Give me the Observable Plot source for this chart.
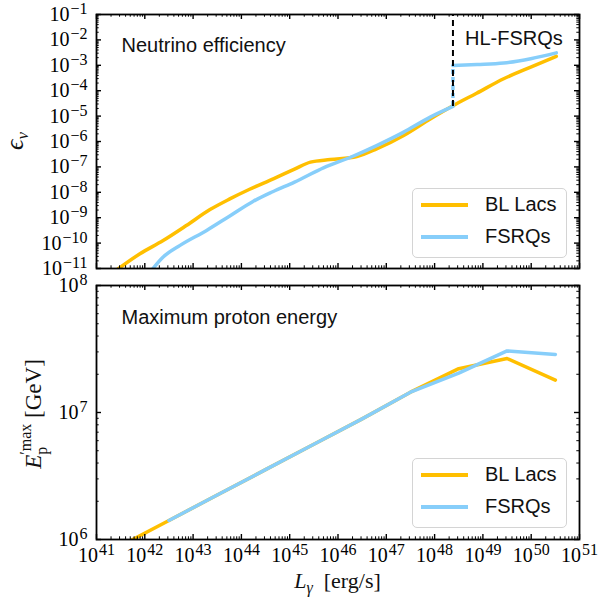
<!DOCTYPE html>
<html>
<head>
<meta charset="utf-8">
<script src="https://cdn.jsdelivr.net/npm/d3@7"></script>
<script src="https://cdn.jsdelivr.net/npm/@observablehq/plot@0.6"></script>
<style>
  body { margin: 0; background: #fff; }
  #wrap { position: relative; width: 598px; height: 601px; }
  #wrap svg { display: block; }
  .legend { position: absolute; left: 412px; width: 155px; height: 70px; box-sizing: border-box;
    border: 1.5px solid #d4d4d4; border-radius: 5px; background: rgba(255,255,255,0.85);
    font-family: "Liberation Sans", sans-serif; font-size: 20px; color: #111; }
  .legend .sw { position: absolute; left: 8px; width: 47px; height: 4px; }
  .legend .lb { position: absolute; left: 72px; line-height: 20px; }
</style>
</head>
<body>
<div id="wrap"></div>
<script>
// ---------- data (log10 values) ----------
const seriesNames = ["BL Lacs", "FSRQs"];
const seriesColors = ["#ffbf00", "#87cefa"];

// Neutrino efficiency panel
const blLacsEffLogL = [41.40, 41.90, 42.38, 42.86, 43.35, 43.76, 44.17, 44.66, 45.10, 45.43, 45.84, 46.39, 46.80, 47.36, 47.91, 48.39, 48.87, 49.43, 49.99, 50.52];
const blLacsEffLog  = [-11.08, -10.42, -9.90, -9.31, -8.68, -8.26, -7.88, -7.47, -7.09, -6.81, -6.71, -6.59, -6.29, -5.76, -5.11, -4.58, -4.10, -3.53, -3.07, -2.65];
const fsrqEffLogL   = [42.12, 42.38, 42.73, 43.28, 43.76, 44.24, 44.66, 45.10, 45.71, 46.26, 46.80, 47.36, 47.91, 48.38];
const fsrqEffLog    = [-11.12, -10.55, -10.09, -9.50, -8.93, -8.36, -7.97, -7.60, -7.03, -6.62, -6.16, -5.63, -5.04, -4.62];
const hlFsrqEffLogL = [48.38, 48.88, 49.43, 49.99, 50.52];
const hlFsrqEffLog  = [-3.01, -2.97, -2.91, -2.74, -2.51];
const hlBoundaryLogL = 48.38;

// Maximum proton energy panel
const blLacsEmaxLogL = [41.5, 42.5, 43.5, 44.5, 45.5, 46.5, 47.5, 48.5, 49.5, 50.5];
const blLacsEmaxLog  = [5.95, 6.15, 6.35, 6.55, 6.75, 6.95, 7.16, 7.345, 7.425, 7.255];
const fsrqEmaxLogL   = [42.5, 43.5, 44.5, 45.5, 46.5, 47.5, 48.5, 49.5, 50.5];
const fsrqEmaxLog    = [6.15, 6.35, 6.55, 6.75, 6.95, 7.16, 7.31, 7.485, 7.457];

// tick exponents
const xTickExps = [41, 42, 43, 44, 45, 46, 47, 48, 49, 50, 51];
const yTopTickExps = [-11, -10, -9, -8, -7, -6, -5, -4, -3, -2, -1];
const yBotTickExps = [6, 7, 8];

// panel labels
const topLabel = "Neutrino efficiency";
const botLabel = "Maximum proton energy";
const hlLabel = "HL-FSRQs";

// ---------- helpers ----------
const pts = (lx, ly) => lx.map((v, i) => ({x: 10 ** v, y: 10 ** ly[i]}));
const majors = exps => exps.map(e => 10 ** e);
const minors = exps => {
  const out = [];
  for (let i = 0; i < exps.length - 1; i++) for (let m = 2; m <= 9; m++) out.push(m * 10 ** exps[i]);
  return out;
};
const fmt = d => "10^" + String(Math.round(Math.log10(d))).replace("-", "\u2212");

const W = 598, ML = 96, MR = 19, FW = W - ML - MR;
const FH = 254;
const serif = "'Liberation Serif', 'DejaVu Serif', serif";
const sans = "'Liberation Sans', 'DejaVu Sans', sans-serif";

function tickMarks(xMaj, xMin, yMaj, yMin) {
  const k = {stroke: "black"};
  return [
    Plot.tickX(xMaj, {...k, x: d => d, strokeWidth: 1.4, insetTop: FH - 5}),
    Plot.tickX(xMaj, {...k, x: d => d, strokeWidth: 1.4, insetBottom: FH - 5}),
    Plot.tickX(xMin, {...k, x: d => d, strokeWidth: 1, insetTop: FH - 2.7}),
    Plot.tickX(xMin, {...k, x: d => d, strokeWidth: 1, insetBottom: FH - 2.7}),
    Plot.tickY(yMaj, {...k, y: d => d, strokeWidth: 1.4, insetRight: FW - 5}),
    Plot.tickY(yMaj, {...k, y: d => d, strokeWidth: 1.4, insetLeft: FW - 5}),
    Plot.tickY(yMin, {...k, y: d => d, strokeWidth: 1, insetRight: FW - 2.7}),
    Plot.tickY(yMin, {...k, y: d => d, strokeWidth: 1, insetLeft: FW - 2.7})
  ];
}

function superscripts(svg) {
  d3.select(svg).selectAll('g[aria-label$="tick label"] text').each(function () {
    const s = this.textContent, i = s.indexOf("^");
    if (i < 0) return;
    const t = d3.select(this);
    t.text(null);
    t.append("tspan").text(s.slice(0, i));
    t.append("tspan").attr("dy", "-7").attr("dx", "1").attr("font-size", "16px").text(s.slice(i + 1));
  });
}

const xDomain = [10 ** xTickExps[0], 10 ** xTickExps[xTickExps.length - 1]];
const lineStyle = {strokeWidth: 3.5, clip: true, strokeLinejoin: "round"};
const smooth = {...lineStyle, curve: "monotone-x"};

// ---------- top panel ----------
const hlX = 10 ** hlBoundaryLogL;
const fsrqLow = pts(fsrqEffLogL, fsrqEffLog);
const hlHigh = pts(hlFsrqEffLogL, hlFsrqEffLog);

const topSvg = Plot.plot({
  width: W, height: 270,
  marginLeft: ML, marginRight: MR, marginTop: 14, marginBottom: 2,
  style: {fontFamily: serif, fontSize: "20px", overflow: "visible", background: "transparent"},
  x: {type: "log", domain: xDomain, axis: null},
  y: {type: "log", domain: [10 ** yTopTickExps[0], 10 ** yTopTickExps[yTopTickExps.length - 1]]},
  marks: [
    Plot.line(pts(blLacsEffLogL, blLacsEffLog), {x: "x", y: "y", stroke: seriesColors[0], ...smooth}),
    Plot.line(fsrqLow, {x: "x", y: "y", stroke: seriesColors[1], ...smooth}),
    Plot.line(hlHigh, {x: "x", y: "y", stroke: seriesColors[1], ...smooth}),
    Plot.ruleX([hlX], {y1: fsrqLow[fsrqLow.length - 1].y, y2: hlHigh[0].y, stroke: seriesColors[1], strokeWidth: 3.5, strokeDasharray: "5,3"}),
    Plot.ruleX([hlX], {y1: fsrqLow[fsrqLow.length - 1].y, y2: 10 ** yTopTickExps[yTopTickExps.length - 1], stroke: "black", strokeWidth: 2, strokeDasharray: "6,4"}),
    Plot.text([hlLabel], {x: () => hlX, frameAnchor: "top", dy: 24, dx: 12, text: d => d, textAnchor: "start", lineAnchor: "middle", fontFamily: sans, fontSize: 20, fill: "#111"}),
    Plot.text([topLabel], {frameAnchor: "top-left", dx: 25, dy: 31, text: d => d, textAnchor: "start", lineAnchor: "middle", fontFamily: sans, fontSize: 20, fill: "#111"}),
    ...tickMarks(majors(xTickExps), minors(xTickExps), majors(yTopTickExps), minors(yTopTickExps)),
    Plot.axisY({ticks: majors(yTopTickExps), tickSize: 0, tickPadding: 9, tickFormat: fmt, fontSize: 20, fontFamily: serif, label: null}),
    Plot.frame({stroke: "black", strokeWidth: 1.8})
  ]
});
superscripts(topSvg);

// ---------- bottom panel ----------
const botSvg = Plot.plot({
  width: W, height: 331,
  marginLeft: ML, marginRight: MR, marginTop: 15, marginBottom: 62,
  style: {fontFamily: serif, fontSize: "20px", overflow: "visible", background: "transparent"},
  x: {type: "log", domain: xDomain},
  y: {type: "log", domain: [10 ** yBotTickExps[0], 10 ** yBotTickExps[yBotTickExps.length - 1]]},
  marks: [
    Plot.line(pts(blLacsEmaxLogL, blLacsEmaxLog), {x: "x", y: "y", stroke: seriesColors[0], ...lineStyle}),
    Plot.line(pts(fsrqEmaxLogL, fsrqEmaxLog), {x: "x", y: "y", stroke: seriesColors[1], ...lineStyle}),
    Plot.text([botLabel], {frameAnchor: "top-left", dx: 25, dy: 32, text: d => d, textAnchor: "start", lineAnchor: "middle", fontFamily: sans, fontSize: 20, fill: "#111"}),
    ...tickMarks(majors(xTickExps), minors(xTickExps), majors(yBotTickExps), minors(yBotTickExps)),
    Plot.axisX({ticks: majors(xTickExps), tickSize: 0, tickPadding: 8, tickFormat: fmt, fontSize: 20, fontFamily: serif, label: null}),
    Plot.axisY({ticks: majors(yBotTickExps), tickSize: 0, tickPadding: 9, tickFormat: fmt, fontSize: 20, fontFamily: serif, label: null}),
    Plot.frame({stroke: "black", strokeWidth: 1.8})
  ]
});
superscripts(botSvg);

// ---------- axis titles ----------
{
  const t = d3.select(topSvg).append("text")
    .attr("transform", "translate(23,141) rotate(-90)")
    .attr("text-anchor", "middle").attr("font-family", serif).attr("font-size", 26).attr("fill", "#111");
  t.append("tspan").attr("font-style", "italic").text("\u03F5");
  t.append("tspan").attr("font-style", "italic").attr("font-size", 17).attr("dy", 5).text("\u03BD");
}
{
  const t = d3.select(botSvg).append("text")
    .attr("transform", "translate(41,144) rotate(-90)")
    .attr("text-anchor", "middle").attr("font-family", serif).attr("font-size", 23).attr("fill", "#111");
  t.append("tspan").attr("font-style", "italic").text("E");
  t.append("tspan").attr("font-size", 16).attr("dy", 6).text("p");
  t.append("tspan").attr("font-size", 16).attr("dx", -8).attr("dy", -16).text("\u2032max");
  t.append("tspan").attr("dy", 10).text(" [GeV]");
}
{
  const t = d3.select(botSvg).append("text")
    .attr("x", ML + FW / 2).attr("y", 318)
    .attr("text-anchor", "middle").attr("font-family", serif).attr("font-size", 22).attr("fill", "#111");
  t.append("tspan").attr("font-style", "italic").text("L");
  t.append("tspan").attr("font-style", "italic").attr("font-size", 16).attr("dy", 5).text("\u03B3");
  t.append("tspan").attr("dy", -5).text("\u2002[erg/s]");
}

const wrap = document.getElementById("wrap");
wrap.appendChild(topSvg);
wrap.appendChild(botSvg);

// ---------- legends ----------
function legend(topPx) {
  const box = document.createElement("div");
  box.className = "legend";
  box.style.top = topPx + "px";
  seriesNames.forEach((name, i) => {
    const sw = document.createElement("div");
    sw.className = "sw";
    sw.style.top = (14 + i * 31.5) + "px";
    sw.style.background = seriesColors[i];
    const lb = document.createElement("div");
    lb.className = "lb";
    lb.style.top = (5 + i * 31.5) + "px";
    lb.textContent = name;
    box.appendChild(sw); box.appendChild(lb);
  });
  wrap.appendChild(box);
}
legend(188);
legend(458);
</script>
</body>
</html>
